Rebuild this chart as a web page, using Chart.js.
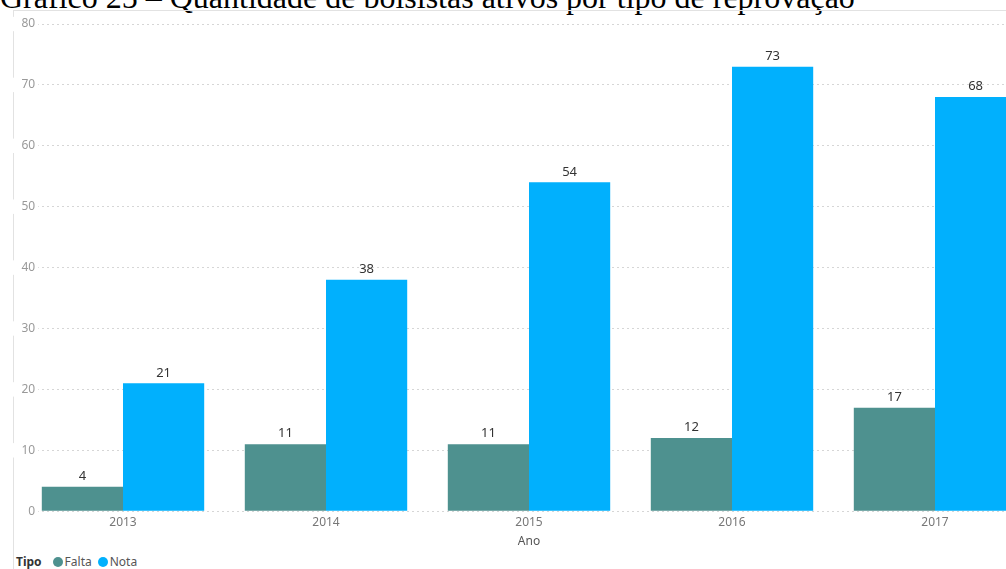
<!DOCTYPE html>
<html lang="pt">
<head>
<meta charset="utf-8">
<script src="https://cdn.jsdelivr.net/npm/chart.js@4"></script>
<style>
    html, body { margin: 0; padding: 0; background: #fff; overflow: hidden; }
    body { width: 1006px; height: 569px; position: relative; }
    #titulo {
        position: absolute; left: 0; top: -21px; white-space: nowrap;
        font-family: "Liberation Serif", "Times New Roman", serif; font-size: 32px; color: #000;
    }
    #moldura {
        position: absolute; left: 13px; top: 10px; right: -5px; bottom: -5px;
        border-left: 1px solid #e2e2e2; border-top: 1px solid #e2e2e2;
    }
    #grafico { position: absolute; left: 0; top: 0; }
    #legenda {
        position: absolute; left: 16px; top: 553px;
        font-family: "Noto Sans", "Open Sans", sans-serif; font-size: 12px; color: #555;
        display: flex; align-items: center; white-space: nowrap;
    }
    #legenda b { color: #333; margin-right: 11px; }
    #legenda .ponto { width: 10px; height: 10px; border-radius: 50%; display: inline-block; margin-right: 2px; }
    #legenda .item { display: flex; align-items: center; margin-right: 6px; }
</style>
</head>
<body>
<div id="titulo">Gráfico 25 – Quantidade de bolsistas ativos por tipo de reprovação</div>
<div id="moldura"></div>
<canvas id="grafico" width="1040" height="549"></canvas>
<div id="legenda"><b>Tipo</b></div>

<script>
const anos = ["2013", "2014", "2015", "2016", "2017"];
const falta = [4, 11, 11, 12, 17];
const nota = [21, 38, 54, 73, 68];
const yTicks = [0, 10, 20, 30, 40, 50, 60, 70, 80];

const corFalta = "#4e918f";
const corNota = "#01b0fd";
const fonte = "'Noto Sans', 'Open Sans', sans-serif";

// rótulos de valor acima das barras
const rotulosBarras = {
    id: "rotulosBarras",
    afterDatasetsDraw(chart) {
        const ctx = chart.ctx;
        ctx.save();
        ctx.font = "13px " + fonte;
        ctx.fillStyle = "#333";
        ctx.textAlign = "center";
        ctx.textBaseline = "bottom";
        chart.data.datasets.forEach((ds, i) => {
            chart.getDatasetMeta(i).data.forEach((bar, j) => {
                ctx.fillText(ds.data[j], bar.x, bar.y - 4);
            });
        });
        ctx.restore();
    }
};

const grafico = new Chart(document.getElementById("grafico"), {
    type: "bar",
    data: {
        labels: anos,
        datasets: [
            { label: "Falta", data: falta, backgroundColor: corFalta },
            { label: "Nota", data: nota, backgroundColor: corNota }
        ]
    },
    options: {
        responsive: false,
        animation: false,
        layout: { padding: { left: 21.5, right: 3.5, top: 24, bottom: 0 } },
        datasets: {
            bar: { categoryPercentage: 0.8, barPercentage: 1, borderWidth: 0 }
        },
        plugins: {
            legend: { display: false },
            tooltip: { enabled: false }
        },
        scales: {
            x: {
                grid: { display: false, drawTicks: false },
                border: { display: false },
                ticks: { color: "#777", font: { family: fonte, size: 12 }, padding: 4 },
                title: {
                    display: true, text: "Ano", color: "#555",
                    font: { family: fonte, size: 12 }, padding: { top: 1, bottom: 0 }
                }
            },
            y: {
                min: 0,
                max: 80,
                afterBuildTicks: s => { s.ticks = yTicks.map(v => ({ value: v })); },
                grid: { color: "#d6d6d6", drawTicks: false },
                border: { display: false, dash: [2, 3] },
                ticks: {
                    mirror: true, crossAlign: "far", padding: 0,
                    color: "#999", font: { family: fonte, size: 12 },
                    showLabelBackdrop: true, backdropColor: "#fff",
                    backdropPadding: { left: 10, right: 3, top: 0, bottom: 0 }
                }
            }
        }
    },
    plugins: [rotulosBarras]
});

// legenda no estilo do original
const legenda = document.getElementById("legenda");
grafico.data.datasets.forEach(ds => {
    const item = document.createElement("span");
    item.className = "item";
    item.innerHTML = `<span class="ponto" style="background:${ds.backgroundColor}"></span>${ds.label}`;
    legenda.appendChild(item);
});
</script>
</body>
</html>
